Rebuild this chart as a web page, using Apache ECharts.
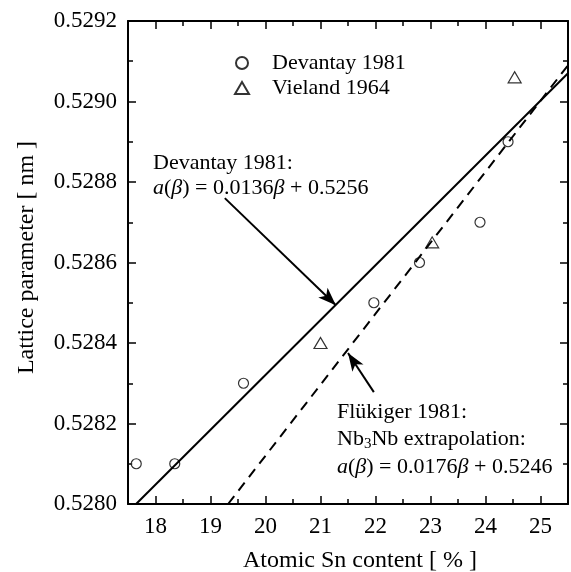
<!DOCTYPE html>
<html>
<head>
<meta charset="utf-8">
<script src="https://cdn.jsdelivr.net/npm/echarts@6/dist/echarts.min.js"></script>
<style>html,body{margin:0;padding:0;background:#fff;}#c{width:571px;height:572px;}</style>
</head>
<body>
<div id="c"></div>
<script>
// ---- data ----
var devantayX = [17.65, 18.35, 19.6, 21.97, 22.8, 23.9, 24.41];
var devantayY = [0.5281, 0.5281, 0.5283, 0.5285, 0.5286, 0.5287, 0.5289];
var vielandX = [21.0, 23.03, 24.53];
var vielandY = [0.5284, 0.52865, 0.52906];
var devantayFitX = [17.647, 25.5];
var devantayFitY = [0.5280, 0.52907];
var flukigerFitX = [19.32, 25.5];
var flukigerFitY = [0.5280, 0.52909];
var arrow1 = [[19.26, 0.52876], [21.28, 0.528494]];
var arrow2 = [[21.97, 0.528278], [21.5, 0.528375]];
var xMajorTicks = [18, 19, 20, 21, 22, 23, 24, 25];

function pairs(xs, ys) { return xs.map(function (x, i) { return [x, ys[i]]; }); }

var FONT = '"Liberation Serif", "Times New Roman", serif';
var chart = echarts.init(document.getElementById('c'));

var axisLine = { show: true, lineStyle: { color: '#000', width: 2 } };
function xAxisDef(pos, showLabel, showName) {
  return {
    type: 'value', position: pos, min: 17.5, max: 25.5, interval: 0.5,
    axisLine: axisLine,
    axisTick: { show: true, inside: true, length: 8, customValues: xMajorTicks, lineStyle: { color: '#000', width: 1.5 } },
    minorTick: { show: false },
    axisLabel: { show: showLabel, customValues: xMajorTicks, margin: 11, color: '#000', fontSize: 23, fontFamily: FONT },
    splitLine: { show: false },
    name: showName ? 'Atomic Sn content [ % ]' : '',
    nameLocation: 'middle', nameGap: 45,
    nameTextStyle: { color: '#000', fontSize: 24, fontFamily: FONT, padding: [0, 0, 0, 24] }
  };
}
function xMinorDef(pos) {
  return {
    type: 'value', position: pos, min: 17.5, max: 25.5, interval: 1,
    axisLine: { show: false },
    axisTick: { show: true, inside: true, length: 5, lineStyle: { color: '#000', width: 1.5 } },
    axisLabel: { show: false }, splitLine: { show: false }
  };
}
function yAxisDef(pos, showLabel, showName) {
  return {
    type: 'value', position: pos, min: 0.5280, max: 0.5292, interval: 0.0002,
    axisLine: axisLine,
    axisTick: { show: true, inside: true, length: 8, lineStyle: { color: '#000', width: 1.5 } },
    minorTick: { show: true, splitNumber: 2, length: 5, lineStyle: { color: '#000', width: 1.5 } },
    axisLabel: { show: showLabel, margin: 11, color: '#000', fontSize: 23, fontFamily: FONT,
      formatter: function (v) { return v.toFixed(4); } },
    splitLine: { show: false },
    name: showName ? 'Lattice parameter [ nm ]' : '',
    nameLocation: 'middle', nameGap: 89,
    nameTextStyle: { color: '#000', fontSize: 24, fontFamily: FONT, padding: [0, 0, 0, 10] }
  };
}

var arrowMark = function (seg) {
  return {
    silent: true, symbol: ['none', 'arrow'], symbolSize: [10, 18],
    label: { show: false },
    lineStyle: { color: '#000', width: 2, type: 'solid' },
    emphasis: { disabled: true },
    data: [[{ coord: seg[0] }, { coord: seg[1] }]]
  };
};

var ann = { fill: '#000', font: '22px ' + FONT, verticalAlign: 'middle' };
var rich = {
  i: { fontStyle: 'italic', fontSize: 22, fontFamily: FONT, color: '#000' },
  sub: { fontSize: 15, fontFamily: FONT, color: '#000', padding: [10, 0, 0, 0] }
};

chart.setOption({
  animation: false,
  backgroundColor: '#fff',
  grid: { left: 128, top: 21, right: 3, bottom: 68, containLabel: false, outerBoundsMode: 'none' },
  xAxis: [xAxisDef('bottom', true, true), xAxisDef('top', false, false), xMinorDef('bottom'), xMinorDef('top')],
  yAxis: [yAxisDef('left', true, true), yAxisDef('right', false, false)],
  legend: {
    orient: 'vertical', left: 229, top: 47, itemGap: 3,
    itemWidth: 14, itemHeight: 12,
    textStyle: { color: '#000', fontSize: 22, fontFamily: FONT, padding: [0, 0, 0, 18] },
    data: ['Devantay 1981', 'Vieland 1964']
  },
  series: [
    {
      name: 'Devantay fit', type: 'line', data: pairs(devantayFitX, devantayFitY),
      showSymbol: false, lineStyle: { color: '#000', width: 2 }, silent: true,
      markLine: arrowMark(arrow1)
    },
    {
      name: 'Flükiger fit', type: 'line', data: pairs(flukigerFitX, flukigerFitY),
      showSymbol: false, lineStyle: { color: '#000', width: 2, type: [10, 7] }, silent: true,
      markLine: arrowMark(arrow2)
    },
    {
      name: 'Devantay 1981', type: 'scatter', data: pairs(devantayX, devantayY),
      symbol: 'circle', symbolSize: 10,
      itemStyle: { color: '#fff', borderColor: '#000', borderWidth: 1.2 }
    },
    {
      name: 'Vieland 1964', type: 'scatter', data: pairs(vielandX, vielandY),
      symbol: 'triangle', symbolSize: [13, 11],
      itemStyle: { color: '#fff', borderColor: '#000', borderWidth: 1.2 }
    }
  ],
  graphic: [
    { type: 'text', x: 153, y: 163, silent: true, style: Object.assign({ text: 'Devantay 1981:' }, ann) },
    { type: 'text', x: 153, y: 188, silent: true, style: Object.assign({
        text: '{i|a}({i|β}) = 0.0136{i|β} + 0.5256', rich: rich }, ann) },
    { type: 'text', x: 337, y: 412, silent: true, style: Object.assign({ text: 'Flükiger 1981:' }, ann) },
    { type: 'text', x: 337, y: 439, silent: true, style: Object.assign({
        text: 'Nb{sub|3}Nb extrapolation:', rich: rich }, ann) },
    { type: 'text', x: 337, y: 467, silent: true, style: Object.assign({
        text: '{i|a}({i|β}) = 0.0176{i|β} + 0.5246', rich: rich }, ann) }
  ]
});
</script>
</body>
</html>
